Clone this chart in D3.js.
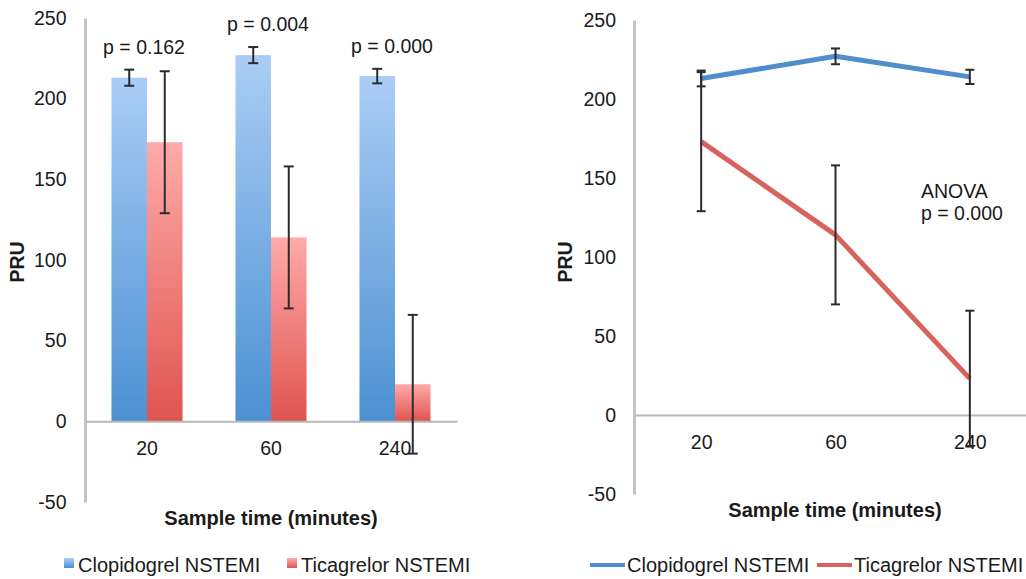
<!DOCTYPE html>
<html><head><meta charset="utf-8">
<script src="https://cdn.jsdelivr.net/npm/d3@7"></script>
<style>
html,body{margin:0;padding:0;background:#fff;}
svg{display:block;font-family:"Liberation Sans",Arial,sans-serif;}
</style></head>
<body>
<svg id="chart" width="1026" height="579"></svg>
<script>
const categories = ["20", "60", "240"];
const seriesNames = ["Clopidogrel NSTEMI", "Ticagrelor NSTEMI"];
const clopidogrel = [213, 227, 214];
const clopidogrelErr = [5, 5, 4.5];
const ticagrelor = [173, 114, 23];
const ticagrelorErr = [44, 44, 43];
const pLabels = ["p = 0.162", "p = 0.004", "p = 0.000"];
const anovaLines = ["ANOVA", "p = 0.000"];
const yTicks = [-50, 0, 50, 100, 150, 200, 250];
const yDomain = [-50, 250];
const xTitle = "Sample time (minutes)";
const yTitle = "PRU";

const svg = d3.select("#chart");
const FS = 19.5;
const FSL = 20;
const textCol = "#1a1a1a";
const axisCol = "#c4c4c4";
const errCol = "#2b2b2b";

const series = [
  {name: seriesNames[0], vals: clopidogrel, errs: clopidogrelErr, top: "#aacdf5", bot: "#4b90d2", line: "#4f8ecb"},
  {name: seriesNames[1], vals: ticagrelor, errs: ticagrelorErr, top: "#ffaaaa", bot: "#df5450", line: "#d8625d"}
];

const defs = svg.append("defs");
series.forEach((s, i) => {
  const g = defs.append("linearGradient").attr("id", "grad" + i)
    .attr("x1", 0).attr("y1", 0).attr("x2", 0).attr("y2", 1);
  g.append("stop").attr("offset", "0%").attr("stop-color", s.top);
  g.append("stop").attr("offset", "100%").attr("stop-color", s.bot);
});

function styleAxis(g) {
  g.selectAll("text").attr("fill", textCol).style("font-size", FS + "px")
    .style("font-family", '"Liberation Sans",Arial,sans-serif');
}

function errorBar(g, x, yScale, v, e, cap, sw) {
  const eb = g.append("g").attr("stroke", errCol).attr("stroke-width", sw);
  eb.append("line").attr("x1", x).attr("x2", x).attr("y1", yScale(v + e)).attr("y2", yScale(v - e));
  eb.append("line").attr("x1", x - cap / 2).attr("x2", x + cap / 2).attr("y1", yScale(v + e)).attr("y2", yScale(v + e));
  eb.append("line").attr("x1", x - cap / 2).attr("x2", x + cap / 2).attr("y1", yScale(v - e)).attr("y2", yScale(v - e));
}

const fmt = d => String(d);

// ---------- LEFT: bar chart ----------
const yL = d3.scaleLinear().domain(yDomain).range([502, 18]);
const xL = d3.scaleBand().domain(categories).range([85, 457]).paddingInner(0.427).paddingOuter(0.2135);
const xL1 = d3.scaleBand().domain(seriesNames).range([0, xL.bandwidth()]);

const left = svg.append("g");
const yAxL = left.append("g").attr("transform", "translate(85,0)")
  .call(d3.axisLeft(yL).tickValues(yTicks).tickSize(0).tickSizeOuter(0).tickPadding(18.5).tickFormat(fmt));
yAxL.select(".domain").attr("stroke", axisCol).attr("stroke-width", 3);
styleAxis(yAxL);

series.forEach((s, si) => {
  left.append("g").selectAll("rect").data(categories).join("rect")
    .attr("x", c => xL(c) + xL1(s.name))
    .attr("width", xL1.bandwidth())
    .attr("y", (c, i) => yL(s.vals[i]))
    .attr("height", (c, i) => yL(0) - yL(s.vals[i]))
    .attr("fill", "url(#grad" + si + ")");
});

const xAxL = left.append("g").attr("transform", `translate(0,${yL(0)})`)
  .call(d3.axisBottom(xL).tickSize(0).tickSizeOuter(0).tickPadding(20));
xAxL.select(".domain").attr("stroke", "#b8b8b8").attr("stroke-width", 2);
styleAxis(xAxL);

series.forEach(s => {
  categories.forEach((c, i) => {
    errorBar(left, xL(c) + xL1(s.name) + xL1.bandwidth() / 2, yL, s.vals[i], s.errs[i], 10, 2);
  });
});

categories.forEach((c, i) => {
  const maxTop = Math.max(...series.map(s => s.vals[i] + s.errs[i]));
  left.append("text").attr("x", xL(c) + xL.bandwidth() / 2 - 3).attr("y", yL(maxTop) - 16)
    .attr("text-anchor", "middle").attr("fill", textCol).style("font-size", FS + "px").text(pLabels[i]);
});

left.append("text").attr("transform", "translate(24,262) rotate(-90)").attr("text-anchor", "middle")
  .attr("fill", textCol).style("font-size", FS + "px").style("font-weight", "bold").text(yTitle);
left.append("text").attr("x", 271).attr("y", 525).attr("text-anchor", "middle")
  .attr("fill", textCol).style("font-size", FSL + "px").style("font-weight", "bold").text(xTitle);

// legend left
const legL = [{x: 64, tx: 78}, {x: 287, tx: 301}];
series.forEach((s, i) => {
  left.append("rect").attr("x", legL[i].x).attr("y", 558).attr("width", 10).attr("height", 10).attr("fill", "url(#grad" + i + ")");
  left.append("text").attr("x", legL[i].tx).attr("y", 572).attr("fill", textCol).style("font-size", FSL + "px").text(s.name);
});

// ---------- RIGHT: line chart ----------
const yR = d3.scaleLinear().domain(yDomain).range([494, 20]);
const xR = d3.scalePoint().domain(categories).range([634, 1037]).padding(0.5);

const right = svg.append("g");
const yAxR = right.append("g").attr("transform", "translate(634,0)")
  .call(d3.axisLeft(yR).tickValues(yTicks).tickSize(0).tickSizeOuter(0).tickPadding(18).tickFormat(fmt));
yAxR.select(".domain").attr("stroke", axisCol).attr("stroke-width", 3);
styleAxis(yAxR);

const xAxR = right.append("g").attr("transform", `translate(0,${yR(0)})`)
  .call(d3.axisBottom(xR).tickSize(0).tickSizeOuter(0).tickPadding(20));
xAxR.select(".domain").attr("stroke", "#b8b8b8").attr("stroke-width", 2);
styleAxis(xAxR);

const lineGen = d3.line().x((d, i) => xR(categories[i])).y(d => yR(d));
series.forEach(s => {
  right.append("path").datum(s.vals).attr("d", lineGen).attr("fill", "none")
    .attr("stroke", s.line).attr("stroke-width", 5).attr("stroke-linejoin", "round");
});
series.forEach(s => {
  categories.forEach((c, i) => {
    errorBar(right, xR(c), yR, s.vals[i], s.errs[i], 9, 2);
  });
});

anovaLines.forEach((t, i) => {
  right.append("text").attr("x", 921).attr("y", 198 + i * 22).attr("fill", textCol)
    .style("font-size", FS + "px").text(t);
});

right.append("text").attr("transform", "translate(572,262) rotate(-90)").attr("text-anchor", "middle")
  .attr("fill", textCol).style("font-size", FS + "px").style("font-weight", "bold").text(yTitle);
right.append("text").attr("x", 835).attr("y", 517).attr("text-anchor", "middle")
  .attr("fill", textCol).style("font-size", FSL + "px").style("font-weight", "bold").text(xTitle);

const legR = [{x: 590, tx: 627}, {x: 817, tx: 854}];
series.forEach((s, i) => {
  right.append("line").attr("x1", legR[i].x).attr("x2", legR[i].x + 35).attr("y1", 565).attr("y2", 565)
    .attr("stroke", s.line).attr("stroke-width", 4);
  right.append("text").attr("x", legR[i].tx).attr("y", 572).attr("fill", textCol).style("font-size", FSL + "px").text(s.name);
});
</script>
</body></html>
